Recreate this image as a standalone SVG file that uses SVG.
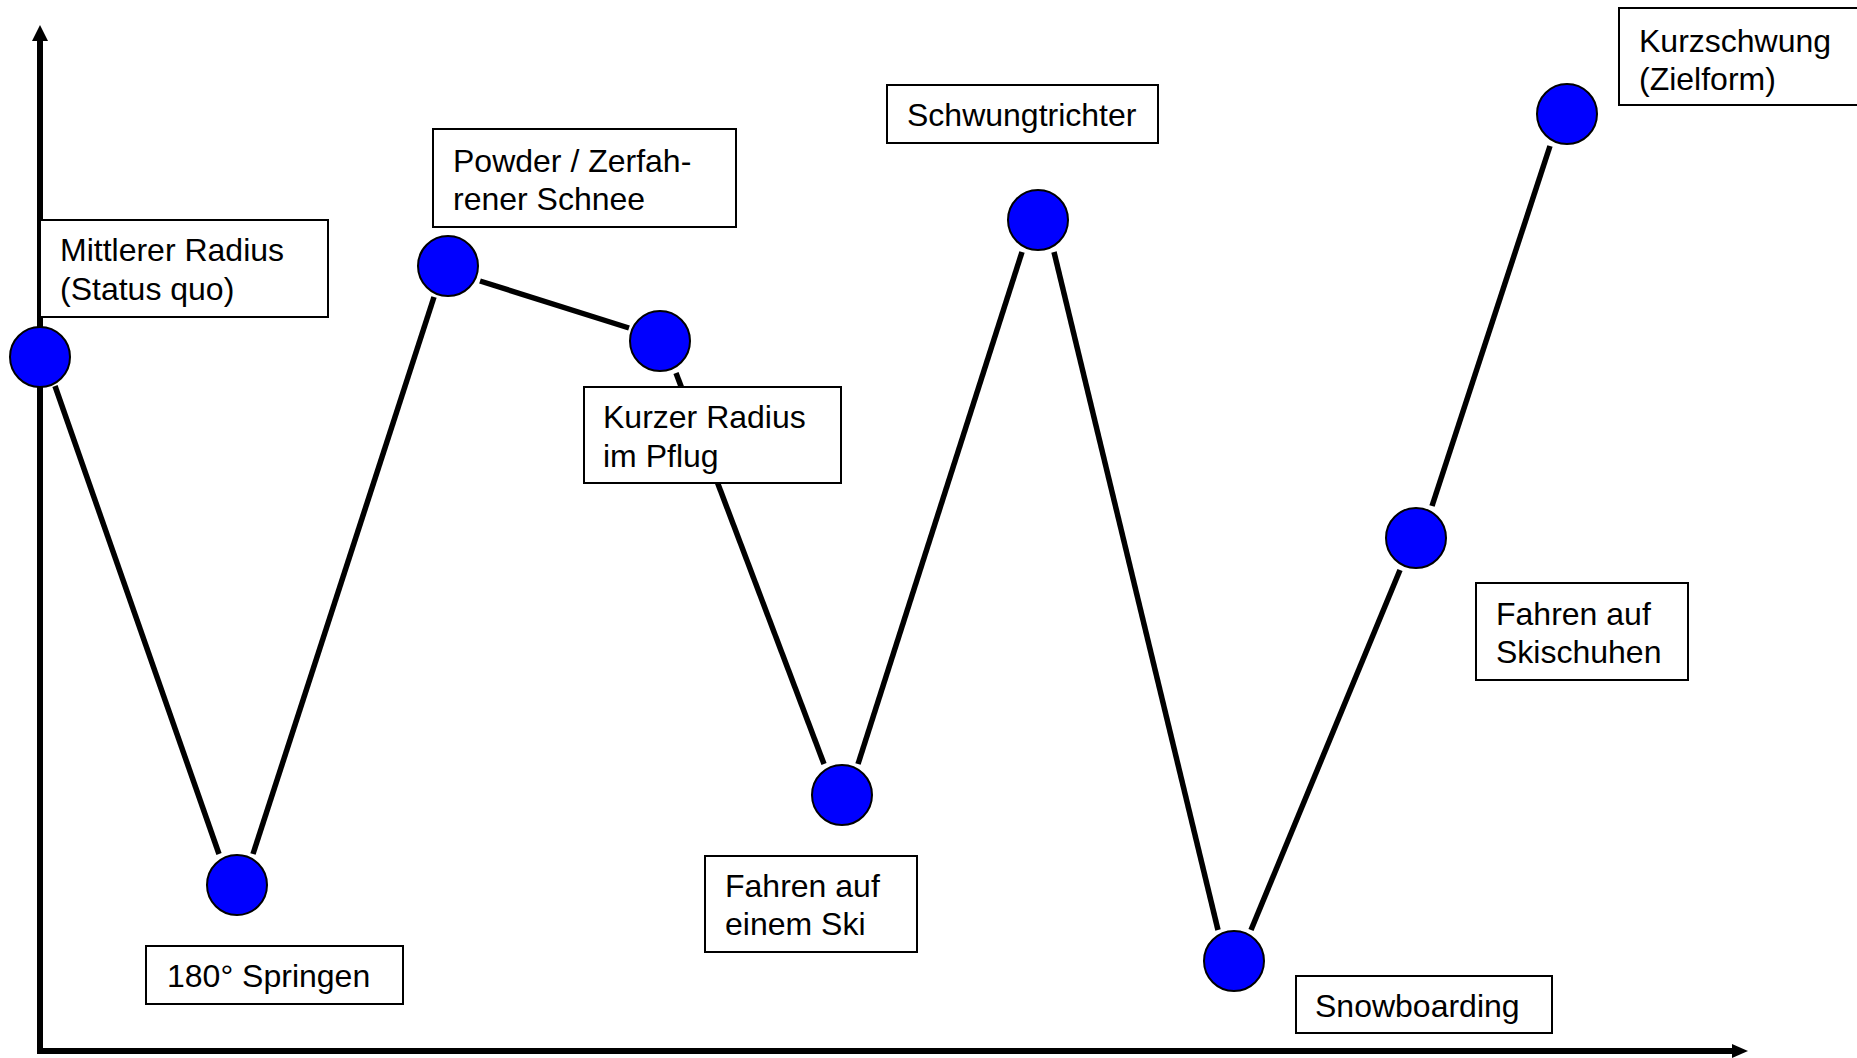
<svg xmlns="http://www.w3.org/2000/svg" width="1857" height="1058" viewBox="0 0 1857 1058">
<style>
.lbl{fill:#fff;stroke:#000;stroke-width:2}
.t{font-family:"Liberation Sans",Arial,sans-serif;font-size:32px;fill:#000}
.dot{fill:#0000ff;stroke:#000;stroke-width:2}
.edge{stroke:#000;stroke-width:5.5;fill:none}
.axis{stroke:#000;stroke-width:6;fill:none}
</style>
<rect width="1857" height="1058" fill="#fff"/>
<g id="axes">
<line class="axis" x1="40" y1="1051" x2="40" y2="38"/>
<polygon points="40,25 32,41 48,41" fill="#000"/>
<line class="axis" x1="37" y1="1051" x2="1735" y2="1051"/>
<polygon points="1748,1051 1732,1044 1732,1058" fill="#000"/>
</g>
<g id="connectors">
<line class="edge" x1="55" y1="386" x2="219" y2="854"/>
<line class="edge" x1="253" y1="854" x2="434" y2="297"/>
<line class="edge" x1="480" y1="281" x2="629" y2="328"/>
<line class="edge" x1="676" y1="373" x2="824" y2="764"/>
<line class="edge" x1="858" y1="764" x2="1022" y2="252"/>
<line class="edge" x1="1054" y1="252" x2="1218" y2="930"/>
<line class="edge" x1="1251" y1="930" x2="1400" y2="570"/>
<line class="edge" x1="1432" y1="506" x2="1550" y2="146"/>
</g>
<g id="n1"><rect class="lbl" x="40" y="220" width="288" height="97"/><text class="t" x="60" y="261">Mittlerer Radius</text><text class="t" x="60" y="300">(Status quo)</text><circle class="dot" cx="40" cy="357" r="30"/></g>
<g id="n2"><circle class="dot" cx="237" cy="885" r="30"/><rect class="lbl" x="146" y="946" width="257" height="58"/><text class="t" x="167" y="987">180° Springen</text></g>
<g id="n3"><rect class="lbl" x="433" y="129" width="303" height="98"/><text class="t" x="453" y="172">Powder / Zerfah-</text><text class="t" x="453" y="210">rener Schnee</text><circle class="dot" cx="448" cy="266" r="30"/></g>
<g id="n4"><circle class="dot" cx="660" cy="341" r="30"/><rect class="lbl" x="584" y="387" width="257" height="96"/><text class="t" x="603" y="428">Kurzer Radius</text><text class="t" x="603" y="467">im Pflug</text></g>
<g id="n5"><circle class="dot" cx="842" cy="795" r="30"/><rect class="lbl" x="705" y="856" width="212" height="96"/><text class="t" x="725" y="897">Fahren auf</text><text class="t" x="725" y="935">einem Ski</text></g>
<g id="n6"><rect class="lbl" x="887" y="85" width="271" height="58"/><text class="t" x="907" y="126">Schwungtrichter</text><circle class="dot" cx="1038" cy="220" r="30"/></g>
<g id="n7"><circle class="dot" cx="1234" cy="961" r="30"/><rect class="lbl" x="1296" y="976" width="256" height="57"/><text class="t" x="1315" y="1017">Snowboarding</text></g>
<g id="n8"><circle class="dot" cx="1416" cy="538" r="30"/><rect class="lbl" x="1476" y="583" width="212" height="97"/><text class="t" x="1496" y="625">Fahren auf</text><text class="t" x="1496" y="663">Skischuhen</text></g>
<g id="n9"><rect class="lbl" x="1619" y="8" width="250" height="97"/><text class="t" x="1639" y="52">Kurzschwung</text><text class="t" x="1639" y="90">(Zielform)</text><circle class="dot" cx="1567" cy="114" r="30"/></g>
</svg>
